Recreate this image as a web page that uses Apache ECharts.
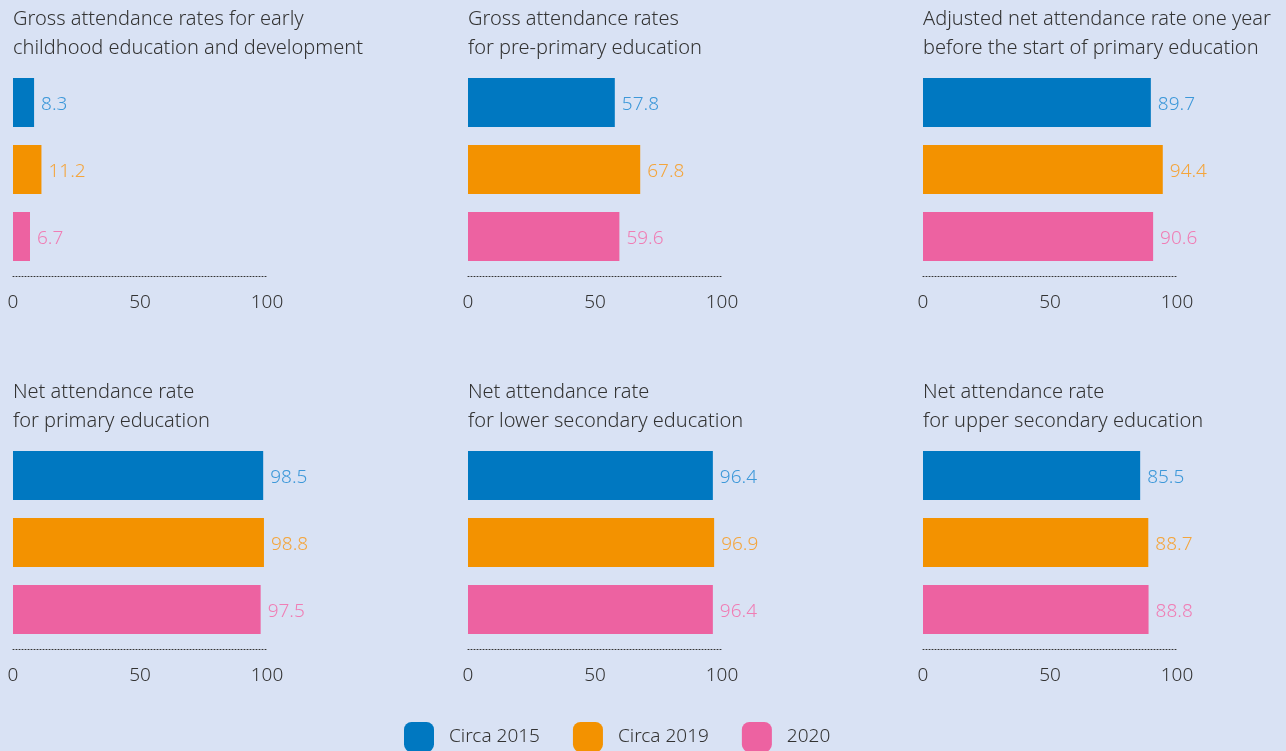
<!DOCTYPE html>
<html><head><meta charset="utf-8">
<script src="https://cdn.jsdelivr.net/npm/echarts@6/dist/echarts.min.js"></script>
<style>html,body{margin:0;padding:0;background:#d9e2f4;}#c{width:1286px;height:751px;}</style>
</head><body><div id="c"></div>
<script>
const panelTitles = [
  'Gross attendance rates for early\nchildhood education and development',
  'Gross attendance rates\nfor pre-primary education',
  'Adjusted net attendance rate one year\nbefore the start of primary education',
  'Net attendance rate\nfor primary education',
  'Net attendance rate\nfor lower secondary education',
  'Net attendance rate\nfor upper secondary education'
];
const seriesNames = ['Circa 2015', 'Circa 2019', '2020'];
const circa2015 = [8.3, 57.8, 89.7, 98.5, 96.4, 85.5];
const circa2019 = [11.2, 67.8, 94.4, 98.8, 96.9, 88.7];
const y2020 = [6.7, 59.6, 90.6, 97.5, 96.4, 88.8];
const tickValues = [0, 50, 100];

const barColors = ['#0078c1', '#f39200', '#ed62a1'];
const labelColors = ['#3d98d9', '#f4a53c', '#f07db4'];
const FONT = 'Noto Sans';
const FW = 300;
const allVals = [circa2015, circa2019, y2020];

const grids = [], xAxes = [], yAxes = [], titles = [], series = [];
for (let i = 0; i < 6; i++) {
  const col = i % 3, row = Math.floor(i / 3);
  const left = 13 + col * 455, top = 69 + row * 373;
  grids.push({ left: left, top: top, width: 254, height: 201 });
  titles.push({
    text: panelTitles[i], left: left, top: 5 + row * 373, padding: 0,
    textStyle: { fontFamily: FONT, fontSize: 20, fontWeight: FW, color: '#333', lineHeight: 29 }
  });
  xAxes.push({
    gridIndex: i, type: 'value', min: tickValues[0], max: tickValues[tickValues.length - 1],
    interval: tickValues[1] - tickValues[0], position: 'bottom', offset: 6,
    axisLine: { show: true, lineStyle: { color: '#333', width: 1, type: [1, 2] } },
    axisTick: { show: false }, splitLine: { show: false },
    axisLabel: { margin: 17, fontFamily: FONT, fontSize: 19, fontWeight: FW, color: '#333' }
  });
  yAxes.push({
    gridIndex: i, type: 'category', data: seriesNames, inverse: true, show: false
  });
  for (let s = 0; s < 3; s++) {
    const data = seriesNames.map((n, k) => k === s ? allVals[s][i] : '-');
    series.push({
      name: seriesNames[s], type: 'bar', xAxisIndex: i, yAxisIndex: i, stack: 'p' + i,
      barWidth: 49, data: data,
      itemStyle: { color: barColors[s] },
      label: { show: true, position: 'right', distance: 7, fontFamily: FONT, fontSize: 19,
        fontWeight: FW, color: labelColors[s], offset: [0, 2],
        formatter: p => p.value.toFixed(1) },
      animation: false
    });
  }
}

const chart = echarts.init(document.getElementById('c'));
chart.setOption({
  backgroundColor: '#d9e2f4',
  animation: false,
  title: titles,
  grid: grids, xAxis: xAxes, yAxis: yAxes, series: series,
  legend: {
    data: seriesNames.map((n, k) => ({ name: n, icon: 'roundRect', itemStyle: { color: barColors[k] } })),
    left: 404, top: 722, itemWidth: 30, itemHeight: 30, itemGap: 33, padding: 0,
    selectedMode: false,
    textStyle: { fontFamily: FONT, fontSize: 19, fontWeight: FW, color: '#333', padding: [0, 0, 0, 10] }
  }
});
</script></body></html>
